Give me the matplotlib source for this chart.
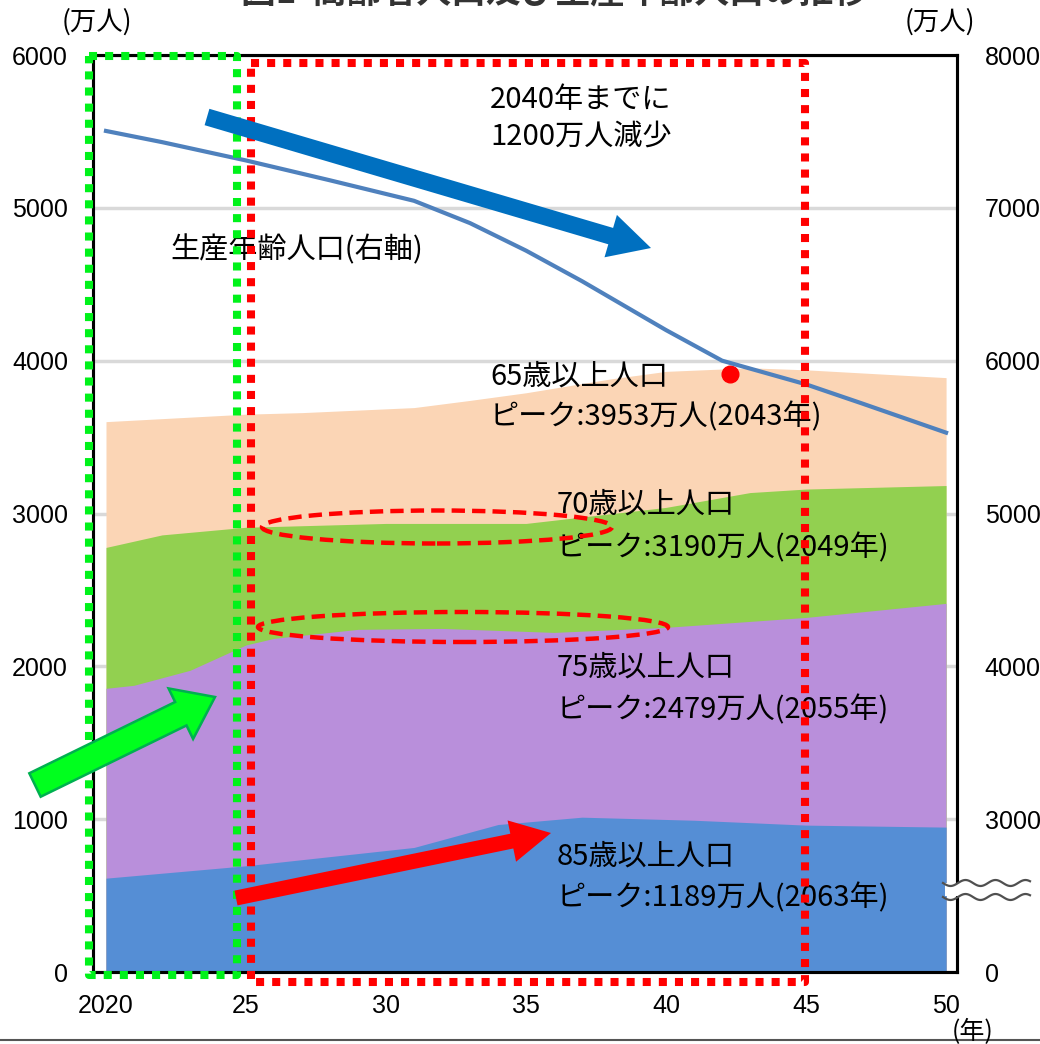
import numpy as np
import matplotlib.pyplot as plt
from matplotlib.patches import FancyArrow, Ellipse, Rectangle
from matplotlib.lines import Line2D

plt.rcParams['font.family'] = ['Liberation Sans', 'Noto Sans CJK JP', 'DejaVu Sans']
JP = ['Noto Sans CJK JP', 'DejaVu Sans']

# --- data (万人) ---
years_65 = [2020, 2025, 2027, 2031, 2033, 2035, 2038, 2040, 2043, 2045, 2050]
pop_65 = [3601, 3650, 3660, 3693, 3740, 3790, 3880, 3930, 3953, 3940, 3889]

years_70 = [2020, 2022, 2025, 2030, 2035, 2040, 2043, 2045, 2050]
pop_70 = [2778, 2860, 2910, 2935, 2935, 3040, 3137, 3160, 3183]

years_75 = [2020, 2021, 2023, 2025, 2026, 2029, 2032, 2036, 2040, 2045, 2050]
pop_75 = [1856, 1876, 1974, 2140, 2183, 2242, 2248, 2222, 2255, 2320, 2412]

years_85 = [2020, 2025, 2031, 2034, 2037, 2041, 2045, 2050]
pop_85 = [614, 695, 815, 965, 1013, 993, 961, 948]

# working-age population (right axis)
years_wa = [2020, 2022, 2025, 2028, 2031, 2033, 2035, 2037, 2040, 2042, 2045, 2047, 2050]
pop_wa = [7503, 7430, 7310, 7180, 7046, 6900, 6720, 6520, 6200, 6000, 5845, 5720, 5529]

peak_dot_year, peak_dot_val = 2042.3, 3910

xticks = [2020, 2025, 2030, 2035, 2040, 2045, 2050]
xticklabels = ['2020', '25', '30', '35', '40', '45', '50']
left_ticks = [0, 1000, 2000, 3000, 4000, 5000, 6000]
right_ticks = [2000, 3000, 4000, 5000, 6000, 7000, 8000]
right_labels = ['0', '3000', '4000', '5000', '6000', '7000', '8000']

W, H = 1040, 1044
fig = plt.figure(figsize=(W / 100, H / 100), dpi=100)


def fx(x):
    return x / W


def fy(y):
    return 1 - y / H


ax = fig.add_axes([fx(93), fy(972), (957 - 93) / W, (972 - 55) / H])
ax.set_xlim(2019.536, 2050.39)
ax.set_ylim(0, 6000)
ax.set_axisbelow(True)
ax.grid(axis='y', color='#D9D9D9', lw=2.5)

ax.fill_between(years_65, 0, pop_65, color='#FBD5B5', lw=0)
ax.fill_between(years_70, 0, pop_70, color='#92D050', lw=0)
ax.fill_between(years_75, 0, pop_75, color='#B98FDB', lw=0)
ax.fill_between(years_85, 0, pop_85, color='#558ED5', lw=0)
ax.plot([peak_dot_year], [peak_dot_val], 'o', color='red', ms=12, zorder=5)

ax.set_xticks(xticks)
ax.set_xticklabels(xticklabels)
ax.set_yticks(left_ticks)
ax.tick_params(length=0, labelsize=18)
ax.tick_params(axis='x', pad=16)
ax.tick_params(axis='y', pad=18)
for s in ax.spines.values():
    s.set_linewidth(2.2)
    s.set_color('black')

ax2 = ax.twinx()
ax2.set_ylim(2000, 8000)
ax2.set_yticks(right_ticks)
ax2.set_yticklabels(right_labels)
ax2.tick_params(length=0, labelsize=18, pad=20)
for s in ax2.spines.values():
    s.set_linewidth(2.2)
    s.set_color('black')
ax2.plot(years_wa, pop_wa, color='#4F81BD', lw=3, solid_joinstyle='round')

# --- dotted boxes ---
def dotted_box(x0, y0, x1, y1, color):
    xs = [fx(x0), fx(x1), fx(x1), fx(x0), fx(x0)]
    ys = [fy(y0), fy(y0), fy(y1), fy(y1), fy(y0)]
    fig.add_artist(Line2D(xs, ys, color=color, lw=5.8, ls=(0, (1, 1)),
                          transform=fig.transFigure, zorder=10))


dotted_box(89, 56, 237, 975, '#00F21A')
dotted_box(251, 63, 805, 982, '#FF0000')

# --- dashed ellipses ---
for cx, cy, w, h in [(437, 527, 350, 33), (463, 627, 410, 30)]:
    fig.add_artist(Ellipse((fx(cx), fy(cy)), w / W, h / H, fill=False,
                           ec='#FF0000', lw=3.2, ls=(0, (3, 1.6)),
                           transform=fig.transFigure, zorder=11))

# --- arrows ---
def arrow(x0, y0, x1, y1, width, hw, hl, fc, ec=None, lw=0):
    fig.add_artist(FancyArrow(fx(x0), fy(y0), fx(x1) - fx(x0), fy(y1) - fy(y0),
                              width=width / W, head_width=hw / W, head_length=hl / W,
                              length_includes_head=True, fc=fc,
                              ec=ec if ec else fc, lw=lw,
                              transform=fig.transFigure, zorder=12))


arrow(207, 117, 651, 248, 17, 44, 42, '#0070C0')
arrow(35, 785, 215, 697, 26, 56, 38, '#00FF1E', '#00B050', 1.8)
arrow(236, 898, 551, 833, 15, 42, 40, '#FF0000')

# --- axis break on right axis ---
fig.add_artist(Rectangle((fx(945), fy(896)), 85 / W, 13 / H, fc='white', ec='none',
                         transform=fig.transFigure, zorder=13))
wx = np.linspace(943, 1030, 80)
for base in (883, 897):
    wy = base + 3 * np.sin((wx - 943) / 30 * 2 * np.pi)
    fig.add_artist(Line2D(fx(wx), fy(wy), color='#505050', lw=1.6,
                          transform=fig.transFigure, zorder=14))

# --- texts ---
def label(x, y, s, size=21, **kw):
    fig.text(fx(x), fy(y), s, ha='left', va='center', fontsize=size,
             family=JP, zorder=9, **kw)


label(490, 100, '2040年までに')
label(490, 137, '1200万人減少')
label(170, 250, '生産年齢人口(右軸)')
label(490, 377, '65歳以上人口')
label(490, 417, 'ピーク:3953万人(2043年)')
label(557, 505, '70歳以上人口')
label(557, 548, 'ピーク:3190万人(2049年)')
label(557, 668, '75歳以上人口')
label(557, 710, 'ピーク:2479万人(2055年)')
label(557, 857, '85歳以上人口')
label(557, 898, 'ピーク:1189万人(2063年)')

fig.text(fx(97), fy(22), '(万人)', ha='center', va='center', fontsize=19, family=JP)
fig.text(fx(940), fy(22), '(万人)', ha='center', va='center', fontsize=19, family=JP)
fig.text(fx(973), fy(1032), '(年)', ha='center', va='center', fontsize=18, family=JP)
fig.text(fx(555), fy(10), '図1  高齢者人口及び生産年齢人口の推移', ha='center', va='bottom',
         fontsize=25, family=JP, color='#333333', fontweight='bold')

fig.add_artist(Line2D([0, 1], [fy(1040), fy(1040)], color='#555555', lw=1.5,
                      transform=fig.transFigure))

fig.savefig('out.png', dpi=100)
